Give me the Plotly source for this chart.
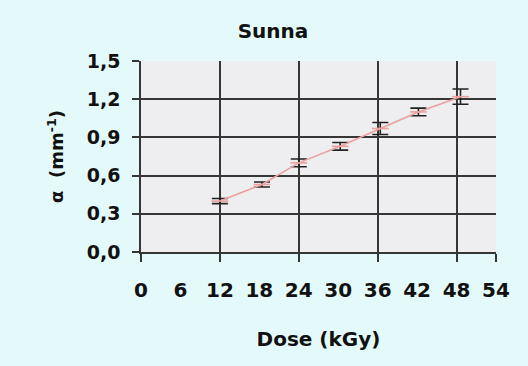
import plotly.graph_objects as go

# Absorption coefficient vs. irradiation dose
dose = [12, 18.4, 24, 30.3, 36.4, 42.2, 48.6]
alpha = [0.40, 0.53, 0.70, 0.83, 0.97, 1.10, 1.22]
alpha_err = [0.02, 0.02, 0.03, 0.03, 0.047, 0.03, 0.06]

x_ticks = [0, 6, 12, 18, 24, 30, 36, 42, 48, 54]
y_ticks = [0.0, 0.3, 0.6, 0.9, 1.2, 1.5]
y_ticktext = ["0,0", "0,3", "0,6", "0,9", "1,2", "1,5"]

fig = go.Figure()

fig.add_trace(go.Scatter(
    x=dose, y=alpha,
    mode="lines+markers",
    line=dict(color="#eba0a0", width=1.6),
    marker=dict(symbol="line-ew-open", size=12,
                line=dict(color="#2a2a2a", width=1.6)),
    error_y=dict(type="data", array=alpha_err, visible=True,
                 color="#222222", thickness=1.6, width=8),
    showlegend=False,
))

# invisible trace on the overlay axis that carries the coarse grid
fig.add_trace(go.Scatter(x=[0, 54], y=[0, 0], xaxis="x2", mode="none",
                         showlegend=False, hoverinfo="skip"))

font = "DejaVu Sans, sans-serif"
ink = "#111111"

fig.update_layout(
    width=528, height=366,
    margin=dict(l=141, r=32, t=61, b=114),
    paper_bgcolor="#e4fafa",
    plot_bgcolor="#eeeef0",
    title=dict(text="<b>Sunna</b>", x=273 / 528, xanchor="center",
               y=1 - 31 / 366, yanchor="middle",
               font=dict(family=font, size=20, color=ink)),
    xaxis=dict(
        range=[0, 54], tickvals=x_ticks, ticktext=[str(v) for v in x_ticks],
        showgrid=False, zeroline=False, showline=False,
        ticks="", ticklabelstandoff=24,
        tickfont=dict(family=font, size=20, color=ink, weight="bold"),
        title=dict(text="<b>Dose (kGy)</b>", standoff=30,
                   font=dict(family=font, size=20, color=ink)),
    ),
    xaxis2=dict(
        range=[0, 54], overlaying="x", anchor="y", side="bottom",
        tickvals=[0, 12, 24, 36, 48, 54], showticklabels=False,
        showgrid=True, gridcolor="#363636", gridwidth=1.5,
        ticks="outside", ticklen=8, tickwidth=1.5, tickcolor="#363636",
        showline=True, linecolor="#363636", linewidth=1.5, zeroline=False,
    ),
    yaxis=dict(
        range=[0, 1.5], tickvals=y_ticks, ticktext=y_ticktext,
        showgrid=True, gridcolor="#363636", gridwidth=1.5,
        zeroline=False, showline=True, linecolor="#363636", linewidth=1.5,
        ticks="outside", ticklen=7, tickwidth=1.5, tickcolor="#363636",
        ticklabelstandoff=8,
        tickfont=dict(family=font, size=19, color=ink, weight="bold"),
        title=dict(text="<b>α  (mm<sup>-1</sup>)</b>", standoff=18,
                   font=dict(family=font, size=18, color=ink)),
    ),
)

fig.write_html("out.html")
